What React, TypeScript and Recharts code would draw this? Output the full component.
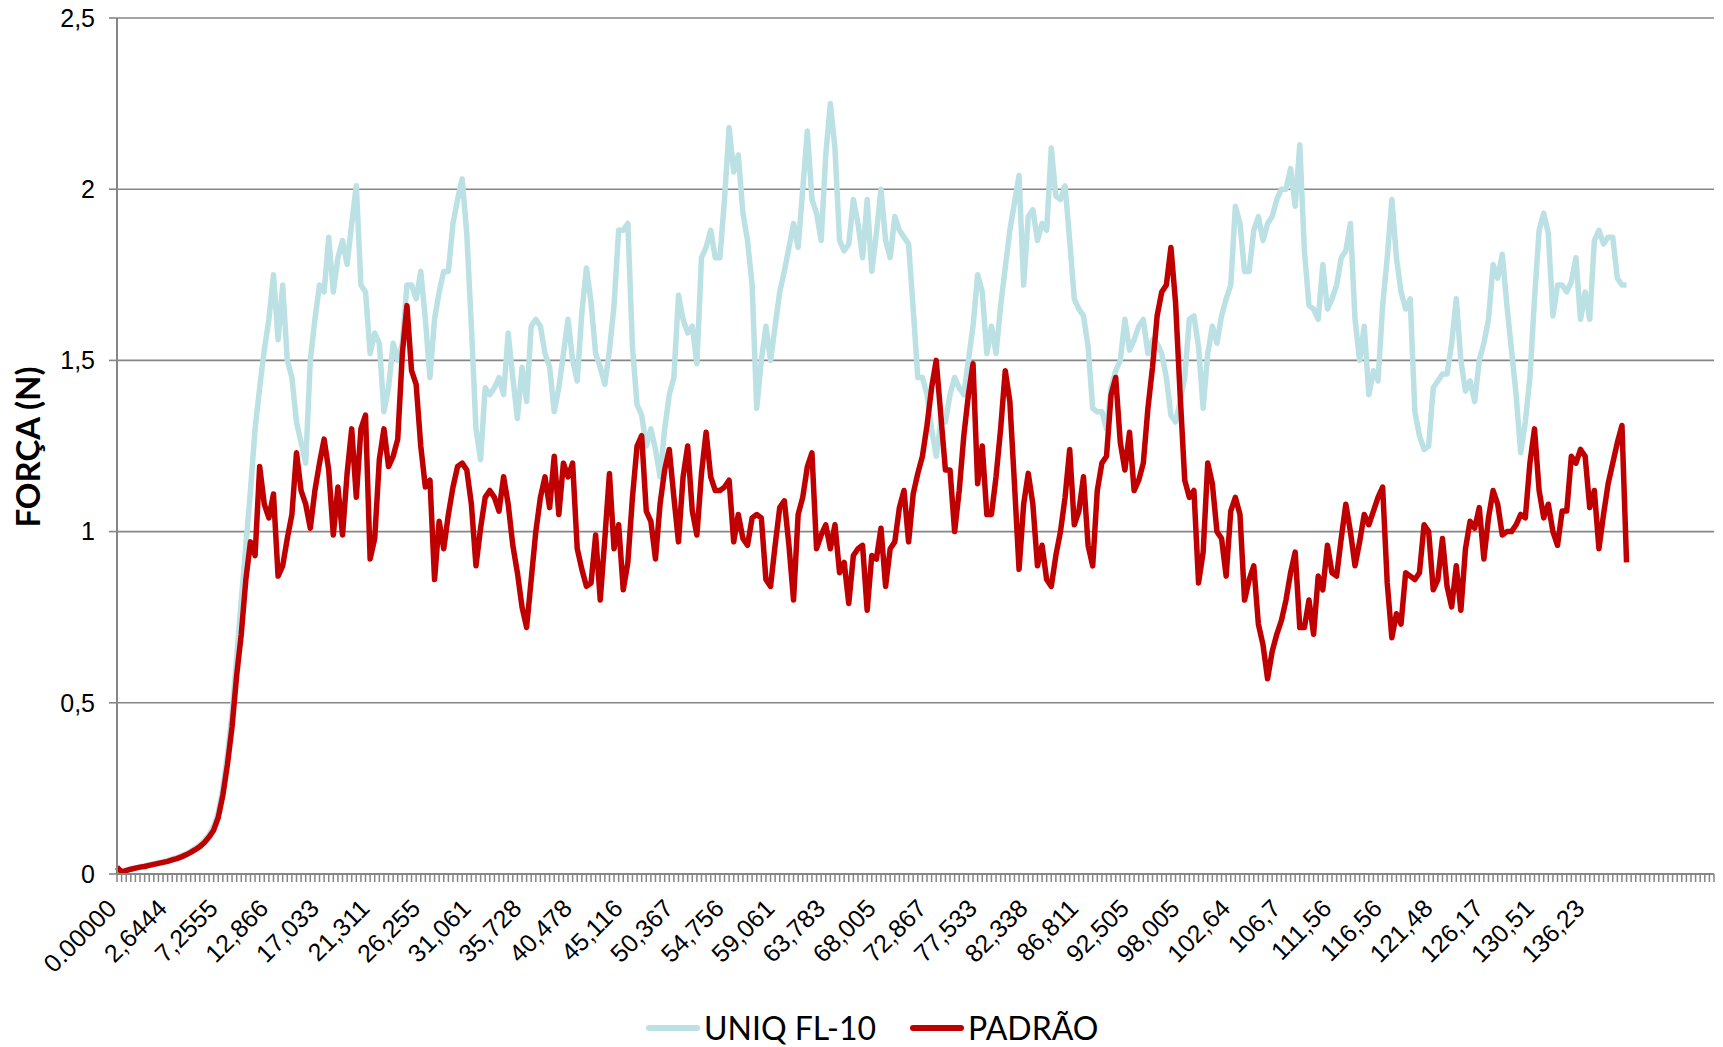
import { LineChart, Line, XAxis, YAxis, CartesianGrid } from "recharts";

// tempo (s) shown every 11th sample on the category axis
const timeLabels = [
  "0.00000", "2,6444", "7,2555", "12,866", "17,033", "21,311", "26,255", "31,061",
  "35,728", "40,478", "45,116", "50,367", "54,756", "59,061", "63,783", "68,005",
  "72,867", "77,533", "82,338", "86,811", "92,505", "98,005", "102,64", "106,7",
  "111,56", "116,56", "121,48", "126,17", "130,51", "136,23",
];
const labelStep = 11;
const categoryCount = 348;

const uniq = [
  0.01, 0.008, 0.012, 0.015, 0.018, 0.021, 0.024, 0.027, 0.03, 0.033,
  0.036, 0.04, 0.044, 0.048, 0.053, 0.059, 0.066, 0.075, 0.085, 0.098,
  0.115, 0.138, 0.18, 0.25, 0.35, 0.47, 0.63, 0.8, 0.96, 1.12,
  1.3, 1.42, 1.53, 1.62, 1.75, 1.56, 1.72, 1.5, 1.45, 1.32,
  1.26, 1.2, 1.5, 1.62, 1.72, 1.7, 1.86, 1.7, 1.8, 1.85,
  1.78, 1.9, 2.01, 1.72, 1.7, 1.52, 1.58, 1.55, 1.35, 1.42,
  1.55, 1.5, 1.55, 1.72, 1.72, 1.68, 1.76, 1.62, 1.45, 1.62,
  1.7, 1.76, 1.76, 1.9, 1.97, 2.03, 1.87, 1.6, 1.3, 1.21,
  1.42, 1.4, 1.42, 1.45, 1.4, 1.58, 1.45, 1.33, 1.48, 1.38,
  1.6, 1.62, 1.6, 1.52, 1.48, 1.35, 1.42, 1.52, 1.62, 1.5,
  1.44, 1.64, 1.77, 1.67, 1.52, 1.48, 1.43, 1.53, 1.66, 1.88,
  1.88, 1.9, 1.54, 1.37, 1.34, 1.25, 1.3, 1.24, 1.16, 1.3,
  1.4, 1.45, 1.69, 1.62, 1.58, 1.6, 1.49, 1.8, 1.83, 1.88,
  1.8, 1.8, 1.97, 2.18, 2.05, 2.1, 1.93, 1.85, 1.72, 1.36,
  1.5, 1.6, 1.5, 1.6, 1.7, 1.76, 1.83, 1.9, 1.83, 2.0,
  2.17, 1.97, 1.93, 1.85, 2.1, 2.25, 2.12, 1.85, 1.82, 1.84,
  1.97, 1.9, 1.8, 1.97, 1.76, 1.87, 2.0, 1.85, 1.8, 1.92,
  1.88, 1.86, 1.84, 1.65, 1.45, 1.45, 1.4, 1.3, 1.22, 1.32,
  1.32, 1.4, 1.45, 1.42, 1.4, 1.5, 1.6, 1.75, 1.7, 1.52,
  1.6, 1.52, 1.66, 1.77, 1.88, 1.96, 2.04, 1.72, 1.92, 1.94,
  1.85, 1.9, 1.88, 2.12, 1.98, 1.97, 2.01, 1.85, 1.68, 1.65,
  1.63, 1.54, 1.36, 1.35, 1.35, 1.3, 1.42, 1.47, 1.5, 1.62,
  1.53, 1.56, 1.6, 1.62, 1.52, 1.56, 1.55, 1.52, 1.45, 1.34,
  1.32, 1.38, 1.45, 1.62, 1.63, 1.54, 1.36, 1.52, 1.6, 1.55,
  1.63, 1.68, 1.72, 1.95, 1.9, 1.76, 1.76, 1.88, 1.92, 1.85,
  1.9, 1.92, 1.97, 2.0, 2.0, 2.06, 1.95, 2.13, 1.82, 1.66,
  1.65, 1.62, 1.78, 1.65, 1.68, 1.72, 1.8, 1.82, 1.9, 1.62,
  1.5, 1.6, 1.4, 1.47, 1.44, 1.66, 1.8, 1.97, 1.8, 1.7,
  1.65, 1.68, 1.35, 1.28, 1.24, 1.25, 1.42, 1.44, 1.46, 1.46,
  1.55, 1.68, 1.5, 1.41, 1.44, 1.38, 1.5, 1.55, 1.62, 1.78,
  1.74, 1.81, 1.66, 1.53, 1.4, 1.23, 1.32, 1.45, 1.68, 1.88,
  1.93, 1.87, 1.63, 1.72, 1.72, 1.7, 1.73, 1.8, 1.62, 1.7,
  1.62, 1.85, 1.88, 1.84, 1.86, 1.86, 1.74, 1.72, 1.72,
];

const padrao = [
  0.02, 0.006, 0.01, 0.014, 0.017, 0.02, 0.022, 0.025, 0.028, 0.031,
  0.034, 0.037, 0.041, 0.045, 0.05, 0.056, 0.063, 0.071, 0.08, 0.092,
  0.108, 0.128, 0.165, 0.23, 0.32, 0.43, 0.58, 0.7, 0.86, 0.97,
  0.93, 1.19, 1.08, 1.04, 1.11, 0.87, 0.9, 0.98, 1.05, 1.23,
  1.12, 1.08, 1.01, 1.12, 1.2, 1.27, 1.18, 0.99, 1.13, 0.99,
  1.17, 1.3, 1.1, 1.3, 1.34, 0.92, 0.98, 1.21, 1.3, 1.19,
  1.22, 1.27, 1.52, 1.66, 1.47, 1.43, 1.25, 1.13, 1.15, 0.86,
  1.03, 0.95, 1.05, 1.13, 1.19, 1.2, 1.18, 1.08, 0.9, 1.01,
  1.1, 1.12, 1.1, 1.06, 1.16, 1.08, 0.96, 0.88, 0.78, 0.72,
  0.86, 1.0, 1.1, 1.16, 1.07, 1.22, 1.05, 1.2, 1.16, 1.2,
  0.95, 0.89, 0.84, 0.85, 0.99, 0.8, 0.98, 1.17, 0.95, 1.02,
  0.83, 0.91, 1.1, 1.25, 1.28, 1.06, 1.03, 0.92, 1.08, 1.18,
  1.24, 1.1, 0.97, 1.16, 1.25, 1.06, 0.99, 1.17, 1.29, 1.16,
  1.12, 1.12, 1.13, 1.15, 0.97, 1.05, 0.98, 0.96, 1.04, 1.05,
  1.04, 0.86, 0.84, 0.96, 1.07, 1.09, 0.96, 0.8, 1.05, 1.1,
  1.19, 1.23, 0.95, 0.99, 1.02, 0.95, 1.02, 0.88, 0.91, 0.79,
  0.93, 0.95, 0.96, 0.77, 0.93, 0.92, 1.01, 0.84, 0.95, 0.97,
  1.07, 1.12, 0.97, 1.11, 1.17, 1.22, 1.31, 1.42, 1.5, 1.34,
  1.18, 1.18, 1.0, 1.12, 1.28, 1.4, 1.49, 1.14, 1.25, 1.05,
  1.05, 1.16, 1.3, 1.47, 1.38, 1.14, 0.89, 1.08, 1.17, 1.08,
  0.9, 0.96, 0.86, 0.84, 0.93, 1.0, 1.1, 1.24, 1.02, 1.06,
  1.16, 0.96, 0.9, 1.12, 1.2, 1.22, 1.4, 1.45, 1.26, 1.18,
  1.29, 1.12, 1.15, 1.2, 1.36, 1.48, 1.63, 1.7, 1.72, 1.83,
  1.67, 1.4, 1.15, 1.1, 1.12, 0.85, 0.94, 1.2, 1.14, 1.0,
  0.98, 0.87, 1.06, 1.1, 1.05, 0.8, 0.86, 0.9, 0.73, 0.67,
  0.57, 0.65, 0.7, 0.74, 0.8, 0.88, 0.94, 0.72, 0.72, 0.8,
  0.7, 0.87, 0.83, 0.96, 0.88, 0.87, 0.98, 1.08, 1.0, 0.9,
  0.97, 1.05, 1.02, 1.06, 1.1, 1.13, 0.85, 0.69, 0.76, 0.73,
  0.88, 0.87, 0.86, 0.88, 1.02, 1.0, 0.83, 0.86, 0.98, 0.84,
  0.78, 0.9, 0.77, 0.95, 1.03, 1.01, 1.07, 0.92, 1.04, 1.12,
  1.08, 0.99, 1.0, 1.0, 1.02, 1.05, 1.04, 1.2, 1.3, 1.12,
  1.04, 1.08, 1.0, 0.96, 1.06, 1.06, 1.22, 1.2, 1.24, 1.22,
  1.07, 1.12, 0.95, 1.05, 1.14, 1.2, 1.26, 1.31, 0.91,
];

const yTicks = [0, 0.5, 1, 1.5, 2, 2.5];

const data = Array.from({ length: categoryCount }, (_, i) => ({
  idx: i,
  uniq: i < uniq.length ? uniq[i] : null,
  padrao: i < padrao.length ? padrao[i] : null,
}));

const axisGray = "#868686";
const blue = "#BCE1E4";
const red = "#C00000";
const tickFont = "'Liberation Sans', Arial, sans-serif";

const XTick = ({ x, y, payload }: any) => {
  const i = Number(payload.value);
  if (i % labelStep !== 0) return null;
  const label = timeLabels[i / labelStep];
  if (!label) return null;
  const ax = x + 1;
  const ay = y + 26;
  return (
    <text
      x={ax}
      y={ay}
      transform={`rotate(-45, ${ax}, ${ay})`}
      textAnchor="end"
      fontSize={25}
      fontFamily={tickFont}
      fill="#000"
    >
      {label}
    </text>
  );
};

export default function App() {
  return (
    <div style={{ position: "absolute", left: 0, top: 0, width: 1723, height: 1047, background: "#fff" }}>
      <LineChart
        width={1723}
        height={1047}
        data={data}
        margin={{ top: 18, right: 9, left: 0, bottom: 0 }}
      >
        <CartesianGrid vertical={false} stroke={axisGray} strokeWidth={1.6} />
        <XAxis
          dataKey="idx"
          type="category"
          scale="point"
          interval={0}
          height={173}
          tickSize={8}
          axisLine={{ stroke: axisGray, strokeWidth: 2 }}
          tickLine={{ stroke: axisGray, strokeWidth: 1.5 }}
          tick={<XTick />}
        />
        <YAxis
          type="number"
          domain={[0, 2.5]}
          ticks={yTicks}
          width={117}
          tickSize={8}
          tickMargin={14}
          axisLine={{ stroke: axisGray, strokeWidth: 2 }}
          tickLine={{ stroke: axisGray, strokeWidth: 1.6 }}
          tickFormatter={(v: number) => String(v).replace(".", ",")}
          tick={{ fontSize: 25, fill: "#000", fontFamily: tickFont }}
        />
        <Line
          type="linear"
          dataKey="uniq"
          name="UNIQ FL-10"
          stroke={blue}
          strokeWidth={5.5}
          strokeLinejoin="round"
          dot={false}
          activeDot={false}
          isAnimationActive={false}
        />
        <Line
          type="linear"
          dataKey="padrao"
          name="PADRÃO"
          stroke={red}
          strokeWidth={5.5}
          strokeLinejoin="round"
          dot={false}
          activeDot={false}
          isAnimationActive={false}
        />
      </LineChart>

      <div
        style={{
          position: "absolute",
          left: 27,
          top: 447,
          transform: "translate(-50%, -50%) rotate(-90deg)",
          fontFamily: "Lato, sans-serif",
          fontWeight: 700,
          fontSize: 33,
          whiteSpace: "nowrap",
          color: "#000",
        }}
      >
        FORÇA (N)
      </div>

      <div
        style={{
          position: "absolute",
          left: 646,
          top: 1010,
          height: 36,
          display: "flex",
          alignItems: "center",
          fontFamily: "Lato, sans-serif",
          fontSize: 32,
          lineHeight: "36px",
          color: "#000",
          whiteSpace: "nowrap",
        }}
      >
        <span style={{ width: 54, height: 6, borderRadius: 3, background: blue, display: "inline-block", marginRight: 4 }} />
        <span>UNIQ FL-10</span>
        <span style={{ width: 54, height: 6, borderRadius: 3, background: red, display: "inline-block", marginLeft: 34, marginRight: 4 }} />
        <span>PADRÃO</span>
      </div>
    </div>
  );
}
